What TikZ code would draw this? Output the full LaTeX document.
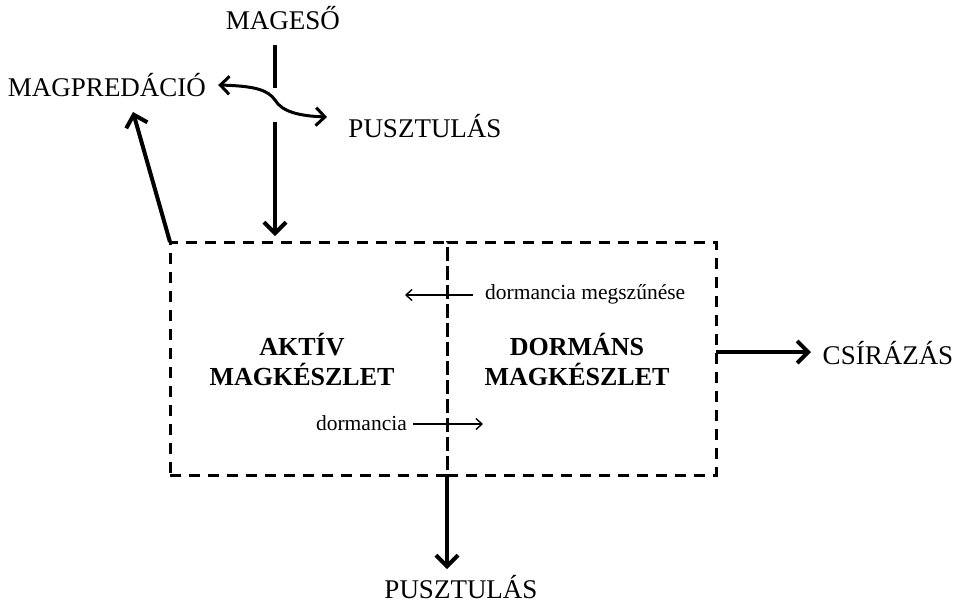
\documentclass[tikz,border=0pt]{standalone}
\usepackage{fontspec}
\setmainfont{Liberation Serif}
\usetikzlibrary{arrows.meta}
\begin{document}
\begin{tikzpicture}[x=1pt,y=-1pt,
  lbl/.style={inner sep=0pt,font=\fontsize{27}{30}\selectfont},
  blbl/.style={inner sep=0pt,align=center,font=\fontsize{26}{30}\selectfont\bfseries},
  slbl/.style={inner sep=0pt,font=\fontsize{21.5}{24}\selectfont},
  pool/.style={draw,line width=3pt,dash pattern=on 11pt off 8pt,minimum height=233pt,inner sep=0pt,outer sep=0pt},
  flow/.style={line width=4pt,-{Straight Barb[length=11pt,width=22pt,line width=4pt]}},
  thin/.style={line width=1.4pt,-{Straight Barb[length=6pt,width=11pt,line width=1.4pt]}}]
\useasboundingbox (0,0) rectangle (962,606);
% text nodes
\node[lbl] (mageso) at (283,18) {MAGESŐ};
\node[lbl] (magpred) at (107,85) {MAGPREDÁCIÓ};
\node[lbl] (puszt1) at (425,126) {PUSZTULÁS};
\node[lbl] (csir) at (888,353) {CSÍRÁZÁS};
\node[lbl] (puszt2) at (461,587) {PUSZTULÁS};
% pools
\node[pool,minimum width=277pt] (aktiv) at (308.5,358.5) {};
\node[pool,minimum width=269pt] (dormans) at (581.5,358.5) {};
\node[blbl] (aktivtxt) at (302,359) {AKTÍV\\MAGKÉSZLET};
\node[blbl] (dormtxt) at (577,359) {DORMÁNS\\MAGKÉSZLET};
\node[slbl,anchor=west] (megsz) at (485,294) {dormancia megszűnése};
\node[slbl,anchor=east] (dorm) at (407,423) {dormancia};
% input flow
\coordinate (a0) at (275,45);
\coordinate (a1) at (275,88);
\coordinate (a2) at (275,122);
\draw[line width=4pt] (a0) -- (a1);
\draw[line width=3pt,{Straight Barb[length=9pt,width=18pt,line width=3pt]}-{Straight Barb[length=9pt,width=18pt,line width=3pt]}]
  (magpred.east) ++(12,0) .. controls (255,86) and (268,90) .. (275,100)
  .. controls (282,112) and (300,116) .. (327,117);
\draw[flow] (a2) -- (275,236);
% outflows
\draw[flow] (aktiv.north west) -- (133,112);
\draw[flow] (aktiv.south east) -- (aktiv.south east |- 0,569);
\draw[flow] (dormans.east |- 0,352) -- (811,352);
% internal flows
\draw[thin] (megsz.west) ++(-12,1) -- (405,295);
\draw[thin] (dorm.east) ++(6,1) -- (483,424);
\end{tikzpicture}
\end{document}
